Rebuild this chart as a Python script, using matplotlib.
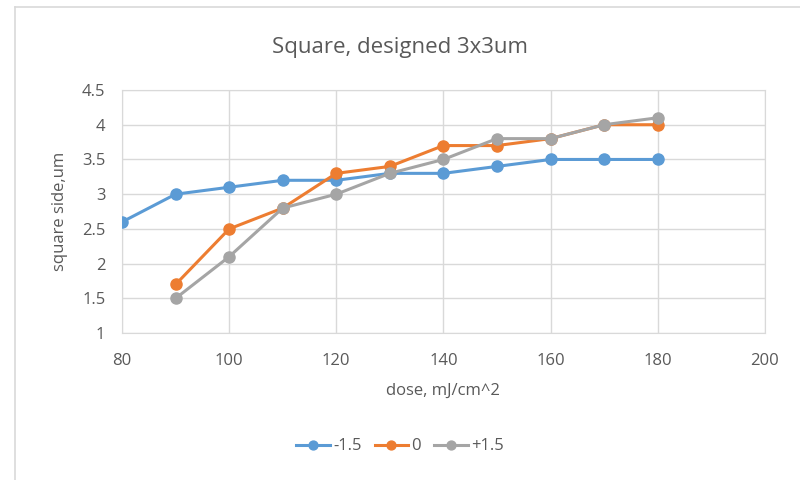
import matplotlib
matplotlib.use("Agg")
import matplotlib.pyplot as plt
from matplotlib.lines import Line2D

dose = [80, 90, 100, 110, 120, 130, 140, 150, 160, 170, 180]
dose_b = [90, 100, 110, 120, 130, 140, 150, 160, 170, 180]
side_m15 = [2.6, 3.0, 3.1, 3.2, 3.2, 3.3, 3.3, 3.4, 3.5, 3.5, 3.5]
side_0 = [1.7, 2.5, 2.8, 3.3, 3.4, 3.7, 3.7, 3.8, 4.0, 4.0]
side_p15 = [1.5, 2.1, 2.8, 3.0, 3.3, 3.5, 3.8, 3.8, 4.0, 4.1]
labels = ["-1.5", "0", "+1.5"]
colors = ["#5b9bd5", "#ed7d31", "#a5a5a5"]

plt.rcParams["font.family"] = ["Open Sans", "DejaVu Sans"]
text_col = "#595959"
grid_col = "#d9d9d9"

fig = plt.figure(figsize=(8, 4.8), dpi=100)
ax = fig.add_axes([0.1525, 0.306, 0.8035, 0.5065])

# chart frame edges (spreadsheet chart object border)
fig.add_artist(Line2D([0.019, 0.019], [0.0, 0.985], color=grid_col, lw=1.2))
fig.add_artist(Line2D([0.019, 1.0], [0.985, 0.985], color=grid_col, lw=1.2))

series = [(dose, side_m15), (dose_b, side_0), (dose_b, side_p15)]
for (x, y), lab, c in zip(series, labels, colors):
    ax.plot(x, y, color=c, lw=2.2, marker="o", markersize=8, label=lab, zorder=3)

ax.set_xlim(80, 200)
ax.set_ylim(1, 4.5)
ax.set_xticks(range(80, 201, 20))
ax.set_yticks([1, 1.5, 2, 2.5, 3, 3.5, 4, 4.5])
ax.set_yticklabels(["1", "1.5", "2", "2.5", "3", "3.5", "4", "4.5"])
ax.grid(True, color=grid_col, lw=1)
ax.set_axisbelow(True)
for s in ax.spines.values():
    s.set_color(grid_col)
ax.tick_params(length=0, colors=text_col, labelsize=12)
ax.tick_params(axis="x", pad=14)
ax.tick_params(axis="y", pad=12)

ax.set_xlabel("dose, mJ/cm^2", color=text_col, fontsize=12, labelpad=10)
ax.set_ylabel("square side,um", color=text_col, fontsize=12, labelpad=10)
fig.text(0.5, 0.9, "Square, designed 3x3um", ha="center", va="center",
         color=text_col, fontsize=16)

fig.legend(loc="center", bbox_to_anchor=(0.5, 0.07), ncol=3, frameon=False,
           fontsize=12, labelcolor=text_col, handlelength=2.0,
           columnspacing=0.8, handletextpad=0.2, markerscale=0.8)

fig.savefig("out.png", dpi=100)
